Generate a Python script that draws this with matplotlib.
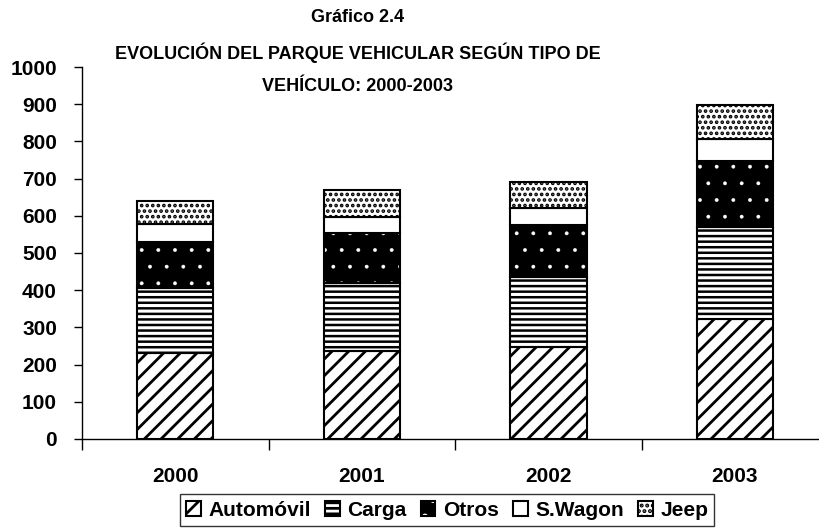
import numpy as np
import matplotlib
matplotlib.use("Agg")
import matplotlib.pyplot as plt
from matplotlib.legend_handler import HandlerTuple

plt.rcParams['font.family'] = ['Liberation Sans', 'DejaVu Sans']
plt.rcParams['font.weight'] = 'bold'
plt.rcParams['hatch.linewidth'] = 2.0

anios = ["2000", "2001", "2002", "2003"]
# valores (miles de vehiculos)
automovil = [231, 237, 246, 323]
carga = [175, 183, 190, 247]
otros = [124, 133, 139, 177]
swagon = [48, 44, 46, 59]
jeep = [62, 72, 70, 92]

x = np.arange(len(anios))
ancho = 0.41

fig = plt.figure(figsize=(8.19, 5.28), dpi=100)
ax = fig.add_axes([0.1001, 0.1686, 0.911, 0.7045])

base = np.zeros(len(anios))
b1 = ax.bar(x, automovil, ancho, bottom=base, color="white", edgecolor="black",
            hatch="//", linewidth=1.5)
base = base + automovil
with plt.rc_context({'hatch.linewidth': 1.8}):
    b2 = ax.bar(x, carga, ancho, bottom=base, color="white", edgecolor="black",
                hatch="---", linewidth=1.5)
base = base + carga
with plt.rc_context({'hatch.linewidth': 0.3}):
    b3 = ax.bar(x, otros, ancho, bottom=base, color="black", edgecolor="white",
                hatch=".", linewidth=0)
b3o = ax.bar(x, otros, ancho, bottom=base, fill=False, edgecolor="black",
             linewidth=1.5)
base = base + otros
b4 = ax.bar(x, swagon, ancho, bottom=base, color="white", edgecolor="black",
            linewidth=1.5)
base = base + swagon
with plt.rc_context({'hatch.linewidth': 1.8}):
    b5 = ax.bar(x, jeep, ancho, bottom=base, color="white", edgecolor="black",
                hatch="...", linewidth=1.5)

ax.set_xlim(-0.5, 3.5)
ax.set_ylim(0, 1000)
ax.set_yticks(range(0, 1001, 100))
ax.set_xticks(x)
ax.set_xticklabels(anios)
ax.set_xticks(np.arange(-0.5, 3.6, 1), minor=True)
ax.tick_params(axis="x", which="major", length=0, pad=20, labelsize=15)
ax.tick_params(axis="x", which="minor", length=8, width=1, direction="out")
ax.tick_params(axis="y", length=6, width=1, direction="out", labelsize=15, pad=12)
for s in ["top", "right"]:
    ax.spines[s].set_visible(False)
ax.spines["left"].set_linewidth(1)
ax.spines["bottom"].set_linewidth(1)

fig.text(0.437, 0.967, "Gráfico 2.4", ha="center", va="center", fontsize=13, fontweight="bold")
fig.text(0.437, 0.900, "EVOLUCIÓN DEL PARQUE VEHICULAR SEGÚN TIPO DE", ha="center",
         va="center", fontsize=13, fontweight="bold")
fig.text(0.437, 0.836, "VEHÍCULO: 2000-2003", ha="center", va="center", fontsize=13,
         fontweight="bold")

handles = [b1[0], b2[0], (b3[0], b3o[0]), b4[0], b5[0]]
labels = ["Automóvil", "Carga", "Otros", "S.Wagon", "Jeep"]
leg = ax.legend(handles, labels, loc="center", bbox_to_anchor=(0.546, 0.034),
                bbox_transform=fig.transFigure, ncol=5, fontsize=15,
                handlelength=0.7, handleheight=0.7, handletextpad=0.35,
                columnspacing=0.7, borderpad=0.3, fancybox=False,
                handler_map={tuple: HandlerTuple(ndivide=1)})
leg.get_frame().set_edgecolor("black")
leg.get_frame().set_linewidth(1)

fig.savefig("out.png", dpi=100)
